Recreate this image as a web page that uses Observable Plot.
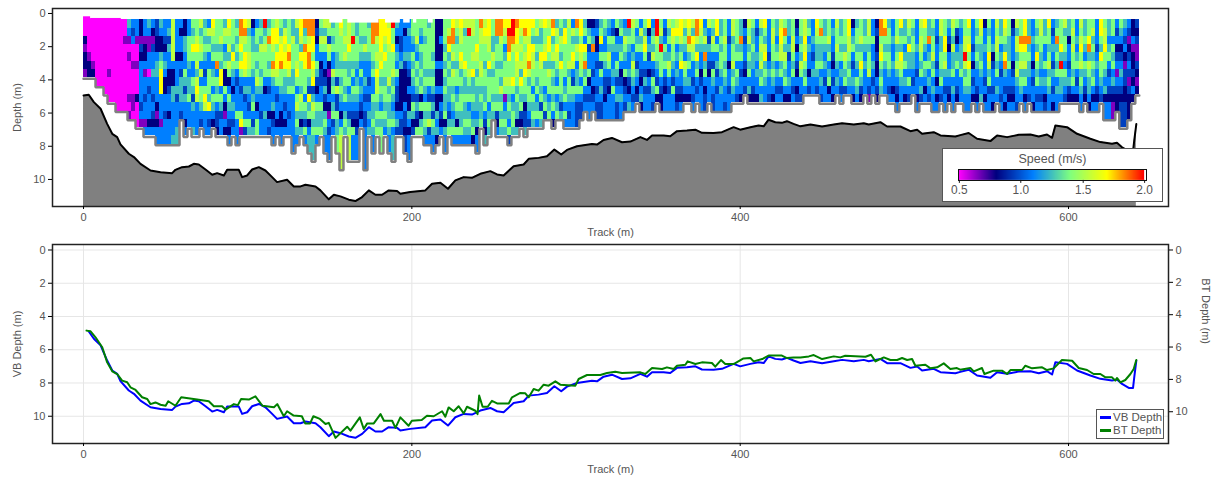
<!DOCTYPE html>
<html><head><meta charset="utf-8">
<script src="https://cdn.jsdelivr.net/npm/d3@7"></script>
<script src="https://cdn.jsdelivr.net/npm/@observablehq/plot@0.6"></script>
<style>
html,body{margin:0;padding:0;background:#fff;font-family:"Liberation Sans",sans-serif}
#page{position:relative;width:1213px;height:477px;overflow:hidden}
#page svg{display:block;background:transparent}
#page text{fill:#555}
.box{position:absolute;background:#fff;border:1.5px solid #555;box-sizing:border-box;color:#555;font-size:11.5px}
</style></head><body><div id="page"></div>
<script>
// Track (m) and vertical-beam depth (m), also the bed line of the contour panel
const vbTrack=[0,3.2,6.3,10.4,14.4,17.5,20.5,22.5,27.6,30.7,34.7,40.8,46.9,54,56,60,64.2,67.2,70.2,74.3,78.4,81.4,85.5,87.5,94.6,96.6,99.7,102.7,106.8,110.8,114.9,117.9,124,128.1,132.2,135.2,141.3,144.3,149.4,152.5,156.5,161.6,165.6,169.7,173.8,177.8,181.9,185.9,191,193,199,208.2,212.3,217.4,222,226.5,231.6,236.6,241.7,247.8,251.9,255.9,262,268.1,271.2,277.2,282.3,286.8,291,294.5,300.6,309.7,312.8,316.8,321.9,328,333.1,339.2,343.2,346.3,353.4,357.4,361.5,367.6,372.7,376.7,383.8,388.9,396,400,406.2,411.2,414.3,417.3,421.4,425.4,428.5,432.5,436.7,442.8,449.9,457,462.1,469.2,475.3,478.3,485.4,489.5,497.6,503.7,507.8,510.8,517.9,522,531.1,534.1,539.2,544.3,552.4,556.5,562.6,569.7,576.8,581.9,586.9,590,592,599.1,605.2,613.3,619.4,626.5,629.5,632.6,636.7,639.3,640.1,641.3];
const vbDepth=[4.94,4.9,5.34,5.74,6.65,7.25,7.45,7.89,8.45,8.65,9.06,9.46,9.56,9.62,9.42,9.26,9.22,9.06,9.1,9.4,9.72,9.62,9.76,9.42,9.42,9.86,9.76,9.4,9.26,9.46,9.86,10.16,10.02,10.42,10.42,10.32,10.42,10.66,11.2,10.92,11.02,11.22,11.3,11.06,10.66,10.92,10.92,10.66,10.7,10.86,10.76,10.66,10.26,10.2,10.56,10.06,9.86,9.9,9.66,9.5,9.7,9.76,9.2,9.1,8.76,8.7,8.6,8.2,8.5,8.22,8,7.86,7.9,7.62,7.5,7.76,7.72,7.45,7.62,7.35,7.35,7.4,7.09,7.05,7,7.19,7.2,7.15,6.85,7,6.85,6.75,6.8,6.4,6.55,6.59,6.49,6.65,6.8,6.69,6.81,6.69,6.61,6.69,6.61,6.69,6.55,6.81,6.81,7.09,7.01,7.25,7.15,7.35,7.41,7.33,7.2,7.55,7.69,7.35,7.45,7.31,7.29,7.41,7.29,7.49,6.75,6.85,7.25,7.55,7.75,7.85,7.79,8.06,8.3,8.3,7.6,6.66];
// Track (m) and bottom-track depth (m)
const btTrack=[1.8,4.3,7.3,11.4,14.4,17.5,20.5,23.5,26.6,28.6,31.7,35.7,38.8,40.8,43.8,46.9,50,51.6,56,59.5,69.2,76.3,79.4,84.4,86.5,91.6,94,96,100.7,104.7,109,116,118,122,124,128,133,135,138,140,144,147.4,149.4,153.5,160.6,162.6,168.3,170.7,172.8,176.8,180.9,183,188,190,193,198,200,206,209.2,213.3,218.4,220.4,222.4,225.5,228.5,231.6,233.6,238.7,240,241,243.1,246.2,248.8,251.9,259,261,266.1,269.1,271.2,274.2,277.2,280.3,283.3,287.4,290.4,299.6,301.6,306.7,314.8,318.9,323.9,328,339.2,342.2,346.3,352.4,355.4,359.5,361.5,366.6,368,372.7,376.7,382.8,384.8,388.3,390.9,396,402,406.2,408.2,413.4,417.3,425.4,428.5,432.5,436.7,441.8,444.8,449.9,457,461,464,476.3,479.7,482.4,487.5,491.5,495.6,498.6,501.7,504.7,506.7,512.8,515.9,520,524,528,532,534,540.2,542.3,547.3,548.8,554.4,559.5,562.6,564.6,571.7,573.7,577.8,583.9,586.9,591,596,602.2,606.2,611.3,615.3,619.4,622.5,626.5,628.5,629.5,631.6,634.6,637.7,639.7,641.3];
const btDepth=[4.85,4.89,5.25,5.85,6.76,7.3,7.46,7.86,7.96,8.26,8.42,8.86,8.96,9.27,9.17,9.31,9.37,9.1,9.37,8.86,9,9.1,9.4,9.4,9.6,9.27,9.33,8.96,9,8.8,9.37,9.46,9.27,10,9.7,9.96,10,10.43,10.43,10,10.16,10.47,10.4,11.3,10.63,10.87,10.07,10.77,10.43,10.43,9.87,10.27,10.27,10.7,10.07,10.57,10.27,10.23,9.97,10,9.7,10.03,9.47,9.7,9.4,9.83,9.43,9.67,9.87,8.76,9.43,9.43,9.07,9.23,9.23,8.86,8.6,8.62,8.86,8.36,8.46,8.1,8.16,7.9,8.1,8.16,7.76,7.52,7.52,7.4,7.32,7.4,7.36,7.46,7.1,7.16,7.06,7.16,6.96,6.9,6.7,6.86,6.76,6.8,7.02,6.62,6.86,6.86,6.52,6.5,6.7,6.56,6.35,6.35,6.5,6.46,6.46,6.4,6.32,6.56,6.4,6.46,6.36,6.42,6.3,6.7,6.46,6.62,6.62,6.5,6.62,6.56,6.96,6.9,7.12,7.06,6.82,7.16,7.1,7.2,7.1,7.3,7.1,7.46,7.26,7.26,7.46,7.22,7.22,6.96,7.12,7.06,7.22,7.12,6.62,6.66,7.1,7.22,7.46,7.46,7.66,7.66,7.86,7.7,7.96,7.82,7.46,7.16,6.62];
// Speed read per cell, one string per ensemble, top bin first; letters are speed classes
const speedClass={m:.5,p:.65,n:.8,d:.95,b:1.1,t:1.25,g:1.4,l:1.55,y:1.7,o:1.85,r:2};
const ensA=["mmnpnnp","mmmmpnn","mmmmmpn","mmmmmmmm","mmmmmmmm","mmmmmmmmm","mmmmmmpmmm","mmmmmmmmmm","mmmmmmmmmmm","mmmmmmmmmmm","mmpmmmmmmmm","tbpmpmmmmpmp","bdbmmpmmmppmm","bbpmmpmmmnmmm","nnpdnbbbbbdbpb","bbpnnbpbbdbbpb","tbppbbmbdbbbnb","bnpdbbtbbdbdnb","ddnnbttbbbnpnb","tbnntgyyybbbpb","bbdnbtbnnbbdbb","btdtbbnndbbnbb","lllllbnnttbbbbt","bbbbnbbbtdbbbt","bnbbnbdtttbdbb","nnttbbgtdtbbnb","bbgggtbttgbbbb","gtgygbbgtdtbbt","gglygltlylbbbb","ltglgblbggtbdb","tgtgtbdbgylbbb","bltgbbgggtybdb","ylgtgbtgbgtbnd","gggtgobgtgbddn","ggltgtyybgtdbb","tlgbtgnngbnpbn","ylgltlgnbgtbdnb","gggtygtbnbtbdb","tgtgtgbdbbbgbb","oolygygbdbbgyp","yolgyylbtdbbgd","ltggllgbtbdbgt","nbttggtbbtgbdt","bggtgtgltbnbgg","tgtlggtgtbbdbb","rtglgggbnbbtbb","tgoggtgbdbbnbd","gyylgoltbbtndb","lyygyylgbdbbnb","gtlyyoggtbbnnb","tlylyygttbdbnb","gggyoyltgbbdbb","ttlgggttgbbbbb"];
const ensB=["lttgglygbgltgtb","yyltygggtlgtntb","otgoyygggbgtdgb","oolyoogtdytgnbt","ooyygylydtlgtgt","ndnbbgtdnbgttgb","gtlgbnddbbgttgb","ltlgbbndtdntgtb","lgdlgnpnnbnpbdb","tgtgbbltgbtgdbt","ggggttgdlddgttg","ylgggtgtgtbnbgl","gglgltggtgbtgtb","lllygttgbtbdtgl","ggrggtgbgtbdngb","ttgggtbtgtbdndb","ggtgtbgbtbdnbdb","ggtltbbtbdbddbb","tgggtbbdbdbtbtb","oooggtgbbgttgtb","oolglgyllgtgtgl","yyyylygtgtbgtgg","yylgyggtggtgtbt","lyylgggltgttgtb","rggyggltgtbtgbt","tbnbtbgbddnbtdb","bbddbtnnnnnbddd","bnbbtdnnnnbddnd","btbbtbdnbnntbnb","ggtbgtgtbdgtndb","ggltbgtgtdtdngb","gtbgttgtgngntgb","ggtgggtgtbgtgtb","tgggggtgbdgtldb","ggggtgtgtdtdgtb","nnnnnbnnbnntbtn","nnbnnbnnbnbdnbt","gggtgtgtgttgntb","gloytgtgttbdtgb","yoogltlgtgtbtgb","lgtggtggbtgtngb","yllgyltgtggttgb","ltgggygttgttgtb","lrgggglgtgbtgtb","llgglgyttgtbtgn","gggylgtgtttbtnb","ollggllgtgttgnd","lylggtggttgbdnt","yyllgytgggbtgtb","ggttlgtggtgtgtb","ootggtgggtgdnbb","oolggtgtltgtgtb","ylgbtgglgpbtgtb"];
const ensC=["yrooygglgtgtbgd","rrolgggygbtggtd","oyylyllgtgttntd","ylglgltygtgdng","yolgllyggtnddt","yylyyoltggtbdb","ygtyllggbgtgtn","gltgtggtgbtgbd","lttgylggtgdgtb","ygglytggbtgdb","lgyygtlggbtgd","oytgltgtgtgbn","tlgylgtbgbtgd","gtlgtygggtdtn","tyyggggbtgbgb","lggggltggtbdb","bltgylbdgtb","ogtlgbttgbd","yygyllgbgbd","tgbygotgbdb","ntgdbbgnbdb","nbtobbdbndb","dbnnbdbbdbd","tgybgdgbtbd","gtbbgtbddnb","tbgtlgbdnb","bdgtbbtbgb","gnbtbgtdbtd","tgbtgbndbtb","btlgtbgndbd","rtgtbbtdnbt","lggbtlgtbdb","gbtgbdtbndd","bltgbbdnbtn","gtlygbdtdbb","ynbtdbnbdb","btgtlbdgtbd","rrlggtbdgnb","gltrgggbdn","bdbgtgbdnb","ltgbtlgbdb","gylggtbdgb","lygbtbtbdnd","yyltgybbdnb","ltgtblgtbnb","yloltgbtbn","ltylgbbdbdb","ooltytgbdbd","ylgtbbndbb","btltotgbnd","lbdtbdnbb","gtlgbdgtbdd","yybgbtdbdb"];
const ensD=["ttgtggtbtbb","gglggtgtbbd","bbdbbnbbdbb","lltggltgtbb","gggtgbgtbdn","ttotgbdbbnb","nbdbbdnbdbb","lgltgtgbtnb","gttgttbbdnn","bdbbtbtbbnb","ltglgltgbtb","ygtlytgtbbd","bbbbdbtbbdb","gllggtgtbnb","ttbtgbtbdbb","lyylltgbdbn","gogtlgtgbnb","ttbtdbbtbnb","ggllgtgbdbb","ndbnbdnbndb","ggtgtlgbbdb","llylygtgbtb","tgbtbbnbdbb","bbtbdbtbbnd","ylgttgtbdbn","gogttgbtbdb","ttgtbtbdbbd","ggltgbtgnbb","btbbdnbdbnb","lgglgtbtbbp","ttgtgbtbdbn","gggtlgtgdbb","yyllgtgtbdb","nbtgbdbtbnb","tggtgtbgtbb","ggltgygtdnb","ttgtbtbbbnb","llgtgglbdpb","bbgbbtbdbnb","ndnndnnbdnb","ooglygtgtbd","yogtgtbbbnb","tggtggtbdbb","bbtbbtbbnbb","ggltgltbdnb","ytgtylgtbbn","ttgbtgbtbnb","lgtyttbgbdb","gtggttbdbbd","bbbtbbdbbnb","lgllgtgbtdb","yggtbgtbnbb","ttobtgbtbdb"];
const ensE=["gtggltgbtbb","bbdbbdbnbnb","llttggtgbdn","ggyygltbdbb","tbdnbbtbdnb","lgtlttgbtbb","gdnbtgbbdnb","tbbtttgbbbd","ggllrltgtbb","yglygyggtbb","bbbdbnbdbnb","gtgtgtbbdnb","ylgttgtbbtb","nbbtbbbdbnb","gtggyltgdbb","bbbtndbbdbn","lgllgtgbtbb","ttgbtbdbbdb","ylgtyotbdbn","ggtttgbbdnb","ndbbbndbdnb","ltlltgltbbd","ggoygltgtbb","yyoygltgbnb","ttotgttbbdb","bbtbbnbdbbn","gtgtygtgbdb","llggttbtbdb","ttgbbgbtbnd","yggtgltgtbb","bdbtbdtbdbn","tgotgtgbtbb","gggytrgttbb","ltggtbgtbdb","ttnbbdbtdnb","glglggtgbnb","bbtbtgbdbnb","lglygltgtbb","ttgtbgtbdnb","ggyotlgttbn","gltgtgtgbnb","bbbdbtbbdnb","yygtyggtbdb","gllyggtbtnb","ttbtgbdbdnb","ggbgtgbtdnp","bdbndbpbdnn","gtbndbtbdnd","tbdbnpddnnd","bdpndbdpdnn","nnbpnndnbnp","dndppdnpnnp","npnppn"];
// Number of bins holding data in each ensemble
const binsA=[7,7,7,8,8,9,10,10,11,11,11,12,12,13,13,14,14,14,15,15,15,15,15,15,12,14,13,14,14,13,14,14,13,14,14,14,15,14,15,14,14,14,14,14,14,14,14,15,14,15,14,14,16];
const binsB=[15,14,15,16,17,15,14,16,17,14,16,18,14,17,17,17,13,18,14,16,14,16,14,16,17,14,14,16,17,14,14,14,15,15,16,15,14,16,14,15,15,15,15,15,15,16,13,15,14,12,14,14,14];
const binsC=[15,14,14,13,14,13,13,13,13,12,12,13,12,12,13,13,13,13,12,11,12,11,12,12,12,12,12,12,12,11,11,11,10,11,11,11,11,10,11,11,11,11,11,11,10,10,11,10,11,11,10,11,11];
const binsD=[11,11,11,10,10,10,9,10,10,10,10,10,10,10,10,10,10,10,10,10,10,9,9,9,9,10,10,10,10,9,10,9,9,10,10,10,9,10,9,10,9,9,10,10,11,10,10,10,9,11,10,10,10];
const binsE=[11,11,10,11,10,11,10,10,11,11,10,11,10,11,11,11,10,11,11,11,11,11,10,11,10,11,11,11,11,11,11,11,10,10,10,10,10,11,10,11,11,11,10,12,12,12,11,13,13,12,10,9];
const trackStep=2.436, firstBinTop=.38, binHeight=.5;
const topSlivers=[[0,4.3,.2],[4.3,23,.3]];
const topNotches=[[150,158],[161,180],[184,193],[195,199],[201,203],[210,213]];
const speedStops=["#ff00ff","#00007f","#007fff","#7fff7f","#ffff00","#ff0000"];
const speedDomain=[.5,2], speedTicks=[.5,1,1.5,2];
const trackTicks=[0,200,400,600], depthTicks=[0,2,4,6,8,10], btTicks=[0,2,4,6,8,10];
const btAxisRatio=.973; // BT axis is drawn slightly compressed against the VB axis
const yDomainTop=[11.63,-.3], yDomainBottom=[11.64,-.33], xDomain=[-18.9,660.9];

const ens=[...ensA,...ensB,...ensC,...ensD,...ensE];
const bins=[...binsA,...binsB,...binsC,...binsD,...binsE];
const cells=[], edge=[];
ens.forEach((s,c)=>{
  const n=bins[c]??0, x1=c*trackStep, x2=(c+1)*trackStep;
  for(let r=0;r<n;r++){
    let ch=s[r]??s[s.length-1]; if(!(ch in speedClass)) ch="b";
    cells.push({x1,x2,y1:firstBinTop+r*binHeight,y2:firstBinTop+(r+1)*binHeight,v:speedClass[ch]});
  }
  const b=firstBinTop+n*binHeight+.06;
  if(n) edge.push({x:x1,y:b},{x:x2,y:b});
});
const vb=vbTrack.map((x,i)=>({x,y:vbDepth[i]}));
const bt=btTrack.map((x,i)=>({x,y:btDepth[i]}));
const ramp=d3.piecewise(d3.interpolateRgb,speedStops);
const font={fontFamily:"'Liberation Sans',sans-serif",fontSize:"11px"};
const axX={ticks:trackTicks,tickSize:3,tickPadding:4,label:"Track (m)",labelAnchor:"center",labelArrow:"none",labelOffset:29,tickFormat:d=>d};
const axY={ticks:depthTicks,tickSize:4,tickPadding:3,label:"Depth (m)",labelAnchor:"center",labelArrow:"none",labelOffset:39,tickFormat:d=>d};

const topPlot=Plot.plot({width:1213,height:240,marginLeft:52,marginRight:45,marginTop:8,marginBottom:34,style:font,
  x:{domain:xDomain},y:{domain:yDomainTop},
  color:{type:"linear",domain:speedDomain,interpolate:ramp},
  marks:[
    Plot.rect(topSlivers,{x1:d=>d[0],x2:d=>d[1],y1:d=>d[2],y2:firstBinTop,fill:speedStops[0]}),
    Plot.rect(cells,{x1:"x1",x2:"x2",y1:"y1",y2:"y2",fill:"v",shapeRendering:"crispEdges"}),
    Plot.rect(topNotches,{x1:d=>d[0],x2:d=>d[1],y1:firstBinTop-.02,y2:firstBinTop+.2,fill:"white"}),
    Plot.line(edge,{x:"x",y:"y",stroke:"#808080",strokeWidth:2.5,strokeLinejoin:"miter"}),
    Plot.areaY(vb,{x:"x",y1:"y",y2:yDomainTop[0],fill:"#808080"}),
    Plot.line(vb,{x:"x",y:"y",stroke:"black",strokeWidth:2}),
    Plot.frame({stroke:"#222",strokeWidth:1.5}),
    Plot.axisX(axX),Plot.axisY(axY)
  ]});
const bottomPlot=Plot.plot({width:1213,height:237,marginLeft:52,marginRight:45,marginTop:4,marginBottom:34,style:font,
  x:{domain:xDomain},y:{domain:yDomainBottom},
  marks:[
    Plot.gridX(trackTicks,{stroke:"#e6e6e6",strokeOpacity:1}),
    Plot.gridY(depthTicks,{stroke:"#e6e6e6",strokeOpacity:1}),
    Plot.line(vb.filter(d=>d.x>=1.5),{x:"x",y:"y",stroke:"#0000ff",strokeWidth:2}),
    Plot.line(bt,{x:"x",y:"y",stroke:"#008000",strokeWidth:2}),
    Plot.frame({stroke:"#222",strokeWidth:1.5}),
    Plot.axisX(axX),
    Plot.axisY({...axY,label:"VB Depth (m)"}),
    Plot.axisY(btTicks.map(d=>d*btAxisRatio),{anchor:"right",tickSize:4,tickPadding:3,label:null,tickFormat:(d,i)=>btTicks[i]}),
    Plot.text(["BT Depth (m)"],{frameAnchor:"right",dx:37,rotate:90,fontSize:11,fill:"#555"})
  ]});
const page=document.getElementById("page");
page.append(topPlot,bottomPlot);
// Speed legend box
const box=document.createElement("div");box.className="box";
box.style.cssText="left:942px;top:148px;width:221px;height:54px;font-size:12.5px";
const title=document.createElement("div");title.textContent="Speed (m/s)";
title.style.cssText="position:absolute;left:0;right:0;top:3px;text-align:center";box.append(title);
const leg=Plot.legend({color:{type:"linear",domain:speedDomain,interpolate:ramp},label:null,width:221,height:30,marginLeft:17,marginRight:17,marginTop:0,marginBottom:20,tickSize:3,ticks:speedTicks,tickFormat:d3.format(".1f"),style:{...font,fontSize:"12px"}});
leg.style.cssText+=";position:absolute;left:-1px;top:21px;";
leg.querySelectorAll(".tick line").forEach(l=>{l.setAttribute("y1",0);l.setAttribute("stroke","#111");});
box.append(leg);
const rampBorder=document.createElement("div");
rampBorder.style.cssText="position:absolute;left:15px;top:20px;width:187px;height:10px;border:1px solid #111;box-sizing:content-box;pointer-events:none";
box.append(rampBorder);page.append(box);
// Line legend box
const lb=document.createElement("div");lb.className="box";
lb.style.cssText="left:1096px;top:409px;width:68px;height:30px";
[["VB Depth","#0000ff",2],["BT Depth","#008000",15]].forEach(([t,c,y])=>{
  const sw=document.createElement("div");sw.style.cssText=`position:absolute;left:3px;top:${y+4}px;width:11px;height:3px;background:${c}`;
  const tx=document.createElement("div");tx.textContent=t;tx.style.cssText=`position:absolute;left:16px;top:${y-1}px;white-space:nowrap`;
  lb.append(sw,tx);
});
page.append(lb);
</script></body></html>
